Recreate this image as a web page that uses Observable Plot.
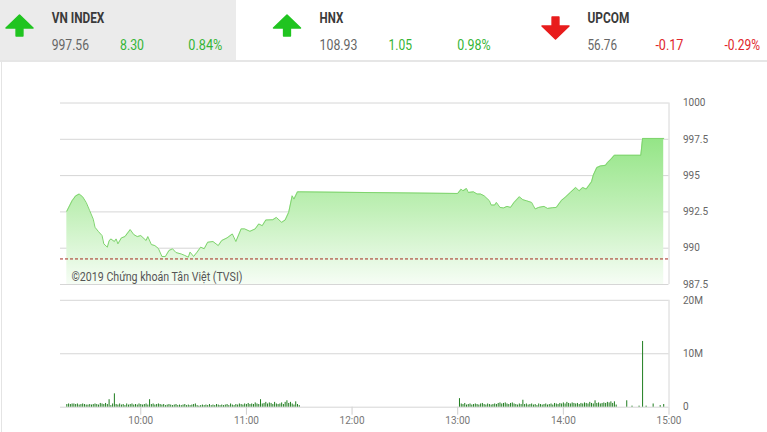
<!DOCTYPE html>
<html>
<head>
<meta charset="utf-8">
<script src="https://cdn.jsdelivr.net/npm/d3@7"></script>
<script src="https://cdn.jsdelivr.net/npm/@observablehq/plot@0.6"></script>
<style>
  html, body { margin: 0; padding: 0; background: #fff; }
  #wrap { position: relative; width: 767px; height: 432px; overflow: hidden; font-family: Roboto, sans-serif; }
  #wrap svg { display: block; }
  #leftline { position: absolute; left: 1px; top: 62px; width: 1px; height: 370px; background: #e4e4e4; }
</style>
</head>
<body>
<div id="wrap">
  <div id="header"></div>
  <div id="price"></div>
  <div id="volume"></div>
  <div id="leftline"></div>
</div>
<script>
// ---------------- DATA ----------------
const indexNames   = ["VN INDEX", "HNX", "UPCOM"];
const indexValues  = ["997.56", "108.93", "56.76"];
const indexChanges = ["8.30", "1.05", "-0.17"];
const indexPercent = ["0.84%", "0.98%", "-0.29%"];
const indexUp      = [true, true, false];

const prevClose = 989.26;
const priceTimes = [
  "09:18","09:21","09:23","09:25","09:27","09:29","09:31","09:33","09:34","09:36",
  "09:38","09:39","09:41","09:42","09:43","09:45","09:46","09:47","09:49","09:51",
  "09:54","09:56","09:58","10:00","10:03","10:04","10:06","10:08","10:10","10:12",
  "10:14","10:16","10:18","10:20","10:23","10:25","10:27","10:28","10:30","10:32",
  "10:34","10:36","10:38","10:41","10:44","10:46","10:49","10:52","10:54","10:57",
  "10:59","11:02","11:05","11:07","11:09","11:11","11:15","11:17","11:20","11:22",
  "11:24","11:26","11:27","11:29","11:30",
  "13:00","13:02","13:03","13:05","13:06","13:09","13:11","13:13","13:15","13:18",
  "13:19","13:21","13:22","13:24","13:26","13:28","13:30","13:32","13:35","13:37",
  "13:39","13:42","13:43","13:44","13:46","13:49","13:51","13:54","13:56","13:59",
  "14:01","14:04","14:07","14:09","14:11","14:13","14:16","14:17","14:19","14:21",
  "14:24","14:25","14:27","14:29","14:30","14:44","14:45","14:57"
];
const priceValues = [
  992.55,993.27,993.60,993.73,993.54,993.15,992.58,992.00,991.44,991.14,
  990.87,990.30,990.07,990.50,990.64,990.46,990.64,990.30,990.71,990.80,
  991.28,990.94,990.80,990.87,990.53,990.80,990.25,990.18,989.98,989.43,
  989.43,989.84,989.96,989.70,989.60,989.50,989.38,989.73,989.43,989.73,
  990.07,989.96,990.41,990.46,990.18,990.53,990.71,990.98,990.46,991.33,
  991.33,991.16,991.33,991.67,991.55,991.94,991.96,992.12,991.78,991.94,
  992.47,993.61,993.38,993.88,993.88,
  993.77,994.07,993.95,994.11,993.84,993.88,993.73,993.73,993.61,993.27,
  992.97,992.97,993.15,992.81,992.77,992.88,992.81,993.15,993.54,993.34,
  993.27,993.15,992.92,992.70,992.81,992.88,992.74,992.79,992.81,993.30,
  993.50,993.84,994.18,993.95,994.18,994.07,994.57,995.03,995.55,995.66,
  995.71,995.89,996.12,996.40,996.40,996.40,997.56,997.56
];
const priceTicks = [987.5, 990, 992.5, 995, 997.5, 1000];
const copyright = "©2019 Chứng khoán Tân Việt (TVSI)";

// volume in millions of shares, one bar per minute
const volMorningStart = "09:18";
const volMorning = [
  0.5,0.6,0.5,0.6,0.6,0.5,0.6,0.4,0.5,0.6,
  0.5,0.4,0.4,0.5,0.4,0.5,0.6,0.5,0.4,0.7,
  0.6,0.5,0.7,0.5,1.4,0.3,0.6,2.5,0.5,0.4,
  0.6,0.4,0.5,0.3,0.6,0.4,0.5,0.6,0.4,0.5,
  0.4,0.6,0.5,0.4,0.5,0.6,0.4,1.4,0.5,0.6,
  0.4,0.5,0.6,0.5,0.4,0.5,0.3,0.4,0.5,0.4,
  0.3,0.4,0.5,0.3,0.4,0.3,0.4,0.5,0.3,0.4,
  0.3,0.4,0.5,0.6,0.3,0.2,0.3,0.4,0.3,0.4,
  0.3,0.5,0.3,0.4,0.3,0.5,0.4,0.3,0.4,0.3,
  0.4,0.5,0.3,0.6,0.4,0.3,0.5,0.4,0.6,0.5,
  0.4,0.6,0.5,0.7,0.5,0.6,0.5,0.8,0.6,0.5,
  1.4,0.6,0.7,0.9,0.6,0.8,0.7,0.5,0.9,0.6,
  0.5,0.6,0.8,0.5,0.9,1.2,0.7,0.9,0.6,0.4,
  1.0,0.5,0.3
];
const volAfternoonStart = "13:01";
const volAfternoon = [
  1.6,0.6,0.5,0.7,0.4,0.5,0.6,0.4,0.5,0.6,
  0.5,0.4,0.6,0.7,0.5,0.4,0.6,0.5,0.4,0.5,
  0.6,0.5,0.7,0.8,0.6,0.7,0.8,0.6,0.5,0.7,
  0.8,0.6,0.5,0.4,0.6,0.5,1.3,0.5,0.6,0.4,
  0.5,0.6,0.4,0.5,0.3,0.6,0.5,0.4,0.5,0.6,
  0.4,0.5,0.6,0.4,0.7,0.6,0.5,0.7,0.6,0.8,
  0.6,0.9,0.7,0.6,0.8,0.7,0.6,0.7,0.5,0.7,
  0.6,0.8,0.7,0.6,0.9,0.7,0.6,1.2,0.7,0.8,
  0.6,0.7,0.8,0.7,0.9,0.8,1.0,0.7,1.0,0.4
];
const volLateTimes  = ["14:36","14:39","14:43","14:45","14:47","14:51","14:55","14:57"];
const volLateValues = [1.2, 0.2, 0.2, 12.3, 0.2, 0.6, 0.3, 0.5];
const volTicks = [0, 10, 20];
const hourTicks = ["10:00","11:00","12:00","13:00","14:00","15:00"];

// ---------------- HELPERS ----------------
const toDate = s => { const [h, m] = s.split(":").map(Number); return new Date(2019, 0, 1, h, m); };
const addMin = (s, k) => { const d = toDate(s); d.setMinutes(d.getMinutes() + k); return d; };
const xDomain = [new Date(2019, 0, 1, 9, 14, 24), toDate("15:00")];

const price = priceTimes.map((t, i) => ({time: toDate(t), value: priceValues[i]}));
const volume = [
  ...volMorning.map((v, i) => ({time: addMin(volMorningStart, i), value: v})),
  ...volAfternoon.map((v, i) => ({time: addMin(volAfternoonStart, i), value: v})),
  ...volLateTimes.map((t, i) => ({time: toDate(t), value: volLateValues[i]}))
];

// ---------------- HEADER ----------------
const W = 767;
const header = d3.create("svg").attr("width", W).attr("height", 62)
  .attr("font-family", "Roboto, sans-serif");
const defs = header.append("defs");
const grad = defs.append("linearGradient").attr("id", "areaGrad")
  .attr("x1", 0).attr("y1", 0).attr("x2", 0).attr("y2", 1);
grad.append("stop").attr("offset", "0%").attr("stop-color", "#94e586");
grad.append("stop").attr("offset", "50%").attr("stop-color", "#c2f0b9");
grad.append("stop").attr("offset", "100%").attr("stop-color", "#f6fdf5");

header.append("rect").attr("x", 0).attr("y", 0).attr("width", 236).attr("height", 61).attr("fill", "#ebebeb");
header.append("rect").attr("x", 0).attr("y", 60).attr("width", W).attr("height", 2).attr("fill", "#e6e6e6");

const panels = [
  {arrowX: 19.5, nameX: 51.7, nameW: 52.6, valW: 37.3, chX: 120, chW: 24, pcX: 188.3, pcW: 34},
  {arrowX: 287, nameX: 319.6, nameW: 23.6, valW: 37.8, chX: 388.4, chW: 23.6, pcX: 457.2, pcW: 33.4},
  {arrowX: 555.5, nameX: 587.5, nameW: 41.8, valW: 29.5, chX: 655.4, chW: 28, pcX: 724.5, pcW: 35.5}
];
panels.forEach((p, i) => {
  const up = indexUp[i];
  const col = up ? "#20c420" : "#e81c1c";
  const txtCol = up ? "#35b535" : "#e0262b";
  const c = p.arrowX;
  const path = up
    ? `M${c},15 L${c+13.5},28 L${c+3.4},28 L${c+3.4},36 L${c-3.4},36 L${c-3.4},28 L${c-13.5},28 Z`
    : `M${c},39 L${c+13.5},26 L${c+3.4},26 L${c+3.4},17 L${c-3.4},17 L${c-3.4},26 L${c-13.5},26 Z`;
  header.append("path").attr("d", path).attr("fill", col).attr("stroke", col)
    .attr("stroke-width", 1.5).attr("stroke-linejoin", "round");
  const t = (x, y, s, w, size, weight, fill) => header.append("text").attr("x", x).attr("y", y)
    .attr("font-size", size).attr("font-weight", weight).attr("fill", fill)
    .attr("textLength", w).attr("lengthAdjust", "spacingAndGlyphs").text(s);
  t(p.nameX, 22.7, indexNames[i], p.nameW, 14, "bold", "#3a3a3a");
  t(p.nameX, 50, indexValues[i], p.valW, 14, "normal", "#666");
  t(p.chX, 50, indexChanges[i], p.chW, 14, "normal", txtCol);
  t(p.pcX, 50, indexPercent[i], p.pcW, 14, "normal", txtCol);
});
document.getElementById("header").append(header.node());

// ---------------- PRICE CHART ----------------
const gridCol = "#d6d6d6";
const priceChart = Plot.plot({
  width: W, height: 228,
  marginTop: 40.5, marginBottom: 6, marginLeft: 60, marginRight: 98.5,
  style: {fontFamily: "Roboto, sans-serif", fontSize: "10px", color: "#666", background: "transparent", overflow: "visible"},
  x: {type: "time", domain: xDomain, axis: null},
  y: {domain: [987.5, 1000], axis: "right", ticks: priceTicks, tickSize: 0, tickPadding: 14,
      tickFormat: d => String(d), label: null},
  marks: [
    Plot.ruleY(priceTicks, {stroke: gridCol, strokeWidth: 1}),
    Plot.ruleX([xDomain[1]], {stroke: gridCol}),
    Plot.areaY(price, {x: "time", y1: 987.5, y2: "value", fill: "url(#areaGrad)"}),
    Plot.lineY(price, {x: "time", y: "value", stroke: "#7fd46e", strokeWidth: 1}),
    Plot.ruleY([prevClose], {stroke: "#a52a1f", strokeWidth: 1, strokeDasharray: "3,2"}),
    Plot.text([copyright], {frameAnchor: "bottom-left", dx: 11, dy: -4, lineAnchor: "bottom",
      fill: "#555", fontSize: 12.5})
  ]
});
// condense the copyright note to the reference's width
d3.select(priceChart).selectAll('g[aria-label="text"] text')
  .attr("textLength", 171).attr("lengthAdjust", "spacingAndGlyphs");
document.getElementById("price").append(priceChart);

// ---------------- VOLUME CHART ----------------
const volChart = Plot.plot({
  width: W, height: 142,
  marginTop: 9.8, marginBottom: 25.3, marginLeft: 60, marginRight: 98.5,
  style: {fontFamily: "Roboto, sans-serif", fontSize: "10px", color: "#666", background: "transparent", overflow: "visible"},
  x: {type: "time", domain: xDomain, ticks: hourTicks.map(toDate), tickFormat: d3.timeFormat("%H:%M"),
      tickSize: 8, tickPadding: 2, label: null},
  y: {domain: [0, 20], axis: "right", ticks: volTicks, tickSize: 0, tickPadding: 14,
      tickFormat: d => d ? d + "M" : "0", label: null},
  marks: [
    Plot.ruleY(volTicks, {stroke: gridCol, strokeWidth: 1}),
    Plot.ruleX([xDomain[1]], {stroke: gridCol}),
    Plot.ruleX(volume, {x: "time", y1: 0, y2: "value", stroke: "#1f7d1f", strokeWidth: 1})
  ]
});
d3.select(volChart).selectAll('g[aria-label^="x-axis"] path, g[aria-label^="x-axis"] line')
  .attr("stroke", "#cfcfcf");
d3.select(volChart).selectAll('g[aria-label^="x-axis"] text').attr("fill", "#777");
document.getElementById("volume").append(volChart);
</script>
</body>
</html>
